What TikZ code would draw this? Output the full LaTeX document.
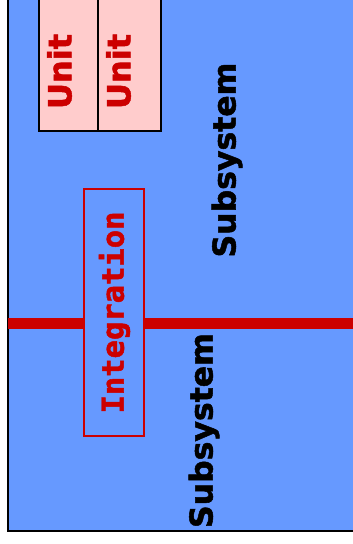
\documentclass[tikz,border=0pt]{standalone}
\usepackage{fontspec}
\newfontfamily\dvsb{DejaVu Sans Bold}[FakeBold=1.6]
\newfontfamily\dvmb{DejaVu Sans Mono Bold}[FakeBold=1.6]
\definecolor{sysblue}{HTML}{6699FF}
\definecolor{unitpink}{HTML}{FFCCCC}
\definecolor{intred}{HTML}{CC0000}
\tikzset{
  px/.style={x=1pt,y=-1pt},
  unitbox/.style={draw=black,line width=2pt,fill=unitpink,minimum width=60pt,minimum height=140pt,inner sep=0pt,outer sep=0pt},
  unitlabel/.style={text=intred,font=\fontsize{32}{32}\dvsb,rotate=90,inner sep=0pt},
  syslabel/.style={text=black,font=\fontsize{31.5}{32}\dvsb,rotate=90,inner sep=0pt},
  intbox/.style={draw=intred,line width=1.5pt,fill=sysblue,minimum width=60pt,minimum height=247pt,inner sep=0pt},
  intlabel/.style={text=intred,font=\fontsize{30.5}{31}\dvmb,rotate=90,inner sep=0pt},
  busline/.style={draw=intred,line width=11pt}
}
\begin{document}
\begin{tikzpicture}[px]
\useasboundingbox (0,0) rectangle (353,544);
\begin{scope}
\clip (0,0) rectangle (353,544);
\fill[white] (0,0) rectangle (353,544);
\draw[fill=sysblue,draw=black,line width=2pt] (8,-10) rectangle (365,531);
\node[unitbox,minimum width=59pt] (u1) at (68.5,61) {};
\node[unitbox,minimum width=63pt] (u2) at (129.5,61) {};
\node[unitlabel] (u1t) at (59.5,71.5) {Unit};
\node[unitlabel] (u2t) at (118.5,71.5) {Unit};
\coordinate (bl) at (8,323);
\coordinate (br) at (365,323);
\draw[busline] (bl) -- (br);
\node[intbox] (ib) at (114,312.5) {};
\node[intlabel] (it) at (114.5,312.5) {Integration};
\node[syslabel] (s1) at (227,160) {Subsystem};
\node[syslabel] (s2) at (204,430.5) {Subsystem};
\end{scope}
\end{tikzpicture}
\end{document}
